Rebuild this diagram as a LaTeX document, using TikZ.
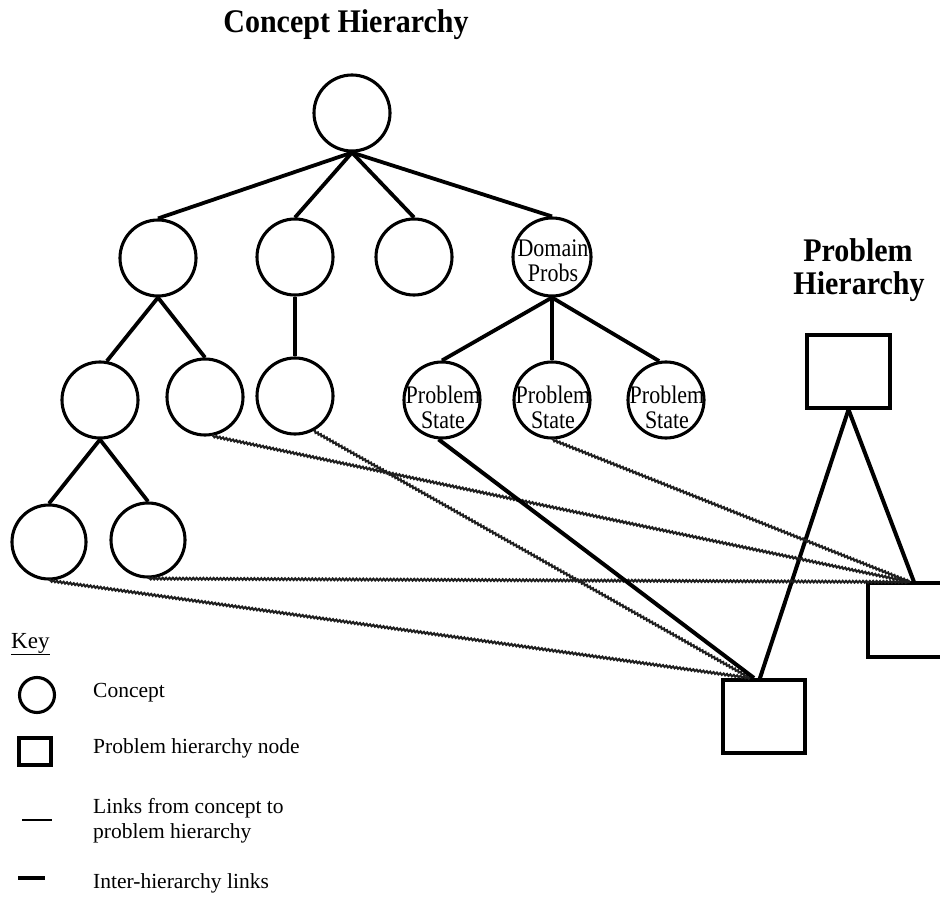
\documentclass[tikz,border=0pt]{standalone}
\usepackage{fontspec}
\usepackage{graphicx}
\setmainfont{Liberation Serif}
\usetikzlibrary{decorations.pathmorphing}
\newcommand{\tallword}[1]{\scalebox{1}[1.15]{#1}}
\begin{document}
\begin{tikzpicture}[x=1pt,y=-1pt,
  concept/.style={circle,draw,line width=3.1pt,minimum size=76pt,inner sep=0pt},
  pnode/.style={rectangle,draw,line width=3.1pt,inner sep=0pt},
  tree/.style={line width=3.8pt},
  interlink/.style={line width=4pt},
  conlink/.style={draw=black!88,line width=2pt,
    decorate,decoration={snake,amplitude=0.9pt,segment length=3.4pt}},
  intext/.style={font=\fontsize{22}{22}\selectfont,inner sep=0pt,anchor=base},
  heading/.style={font=\fontsize{30}{33}\selectfont\bfseries,inner sep=0pt,anchor=base},
  keytext/.style={font=\fontsize{21.5}{26}\selectfont,anchor=base west,inner sep=0pt}]
\clip (0,0) rectangle (940,901);

% titles
\node[heading] (ctitle) at (346,33) {\scalebox{1}[1.1]{Concept Hierarchy}};
\node[heading] (ptitle1) at (858,262) {\scalebox{1}[1.1]{Problem}};
\node[heading] (ptitle2) at (859,295) {\scalebox{1}[1.1]{Hierarchy}};

% concept hierarchy
\node[concept] (root) at (352,113) {};
\node[concept] (a) at (158,258) {};
\node[concept] (b) at (295,257) {};
\node[concept] (c) at (414,257) {};
\node[concept,minimum size=78pt] (d) at (552,257) {};
\node[intext] (dt1) at (553,257) {\tallword{Domain}};
\node[intext] (dt2) at (553,282) {\tallword{Probs}};

\node[concept] (aa) at (100,400) {};
\node[concept] (ab) at (205,397) {};
\node[concept] (ba) at (295,396) {};
\node[concept] (da) at (442,400) {};
\node[concept] (db) at (552,400) {};
\node[concept] (dc) at (666,400) {};
\node[intext] (dat1) at (443,403) {\tallword{Problem}};
\node[intext] (dat2) at (443,428) {\tallword{State}};
\node[intext] (dbt1) at (553,403) {\tallword{Problem}};
\node[intext] (dbt2) at (553,428) {\tallword{State}};
\node[intext] (dct1) at (667,403) {\tallword{Problem}};
\node[intext] (dct2) at (667,428) {\tallword{State}};

\node[concept,minimum size=74pt] (aaa) at (49,542) {};
\node[concept,minimum size=74pt] (aab) at (148,540) {};

\draw[tree] (root.south) -- (a.north);
\draw[tree] (root.south) -- (b.north);
\draw[tree] (root.south) -- (c.north);
\draw[tree] (root.south) -- (d.north);
\draw[tree] (a.south) -- (aa.80);
\draw[tree] (a.south) -- (ab.north);
\draw[tree] (b.south) -- (ba.north);
\draw[tree] (d.south) -- (da.north);
\draw[tree] (d.south) -- (db.north);
\draw[tree] (d.south) -- (dc.100);
\draw[tree] (aa.south) -- (aaa.north);
\draw[tree] (aa.south) -- (aab.north);

% problem hierarchy
\node[pnode,minimum width=83pt,minimum height=73pt] (ptop) at (848.5,371.5) {};
\node[pnode,minimum width=77pt,minimum height=74pt] (pright) at (906.5,620) {};
\node[pnode,minimum width=82pt,minimum height=73pt] (pbot) at (764,716.5) {};
\coordinate (rin) at (910,582);
\coordinate (bin) at (750,678);

\draw[interlink] (ptop.south) -- ([xshift=4pt]rin);
\draw[interlink] (ptop.south) -- ([xshift=9pt,yshift=-3pt]bin);

% links from concepts to problem nodes
\draw[conlink] (aaa.south) -- (bin);
\draw[conlink] (aab.south) -- (rin);
\draw[conlink] (ab.-80) -- (rin);
\draw[conlink] (ba.-62) -- (bin);
\draw[conlink] (db.south) -- (rin);
\draw[interlink] (da.-95) -- ([xshift=4pt]bin);

% key
\node[keytext,font=\fontsize{23}{26}\selectfont] (key) at (11,648) {\underline{Key}};
\node[concept,minimum size=35pt] (kc) at (37,695) {};
\node[keytext] (kct) at (93,697) {Concept};
\node[pnode,minimum width=32pt,minimum height=27pt] (ks) at (35,751.5) {};
\node[keytext] (kst) at (93,753) {Problem hierarchy node};
\coordinate (k1a) at (22,820);
\coordinate (k1b) at (52,820);
\draw[line width=2.8pt] (k1a) -- (k1b);
\node[keytext] (k1t) at (93,813) {Links from concept to};
\node[keytext] (k1u) at (93,838) {problem hierarchy};
\coordinate (k2a) at (18,878);
\coordinate (k2b) at (45,878);
\draw[line width=3.8pt] (k2a) -- (k2b);
\node[keytext] (k2t) at (93,888) {Inter-hierarchy links};
\end{tikzpicture}
\end{document}
